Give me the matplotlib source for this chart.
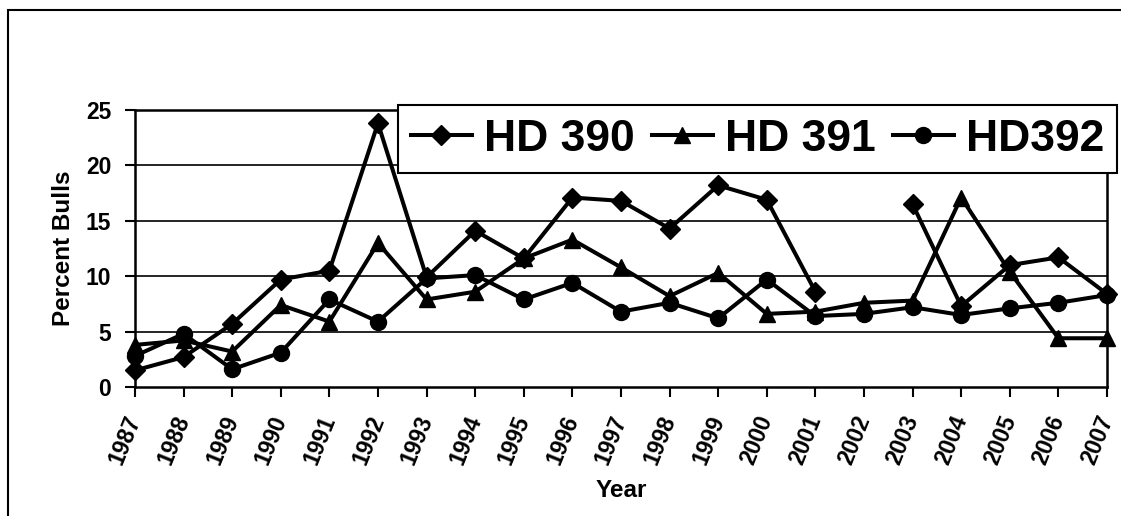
import numpy as np
import matplotlib
matplotlib.use("Agg")
import matplotlib.pyplot as plt
from matplotlib.patches import Rectangle

plt.rcParams['font.family'] = ['Liberation Sans', 'DejaVu Sans']
plt.rcParams['font.weight'] = 'bold'

years = list(range(1987, 2008))
hd390 = [1.5, 2.7, 5.7, 9.7, 10.5, 23.8, 9.9, 14.1, 11.6, 17.1, 16.8,
         14.3, 18.2, 16.9, 8.6, np.nan, 16.5, 7.3, 11.0, 11.7, 8.4]
hd391 = [3.8, 4.2, 3.2, 7.4, 5.9, 13.0, 7.9, 8.6, 11.6, 13.3, 10.8,
         8.2, 10.3, 6.6, 6.8, 7.6, 7.8, 17.1, 10.4, 4.4, 4.4]
hd392 = [2.8, 4.8, 1.6, 3.1, 7.9, 5.9, 9.8, 10.1, 7.9, 9.4, 6.8,
         7.6, 6.2, 9.7, 6.4, 6.6, 7.2, 6.5, 7.1, 7.6, 8.3]

fig = plt.figure(figsize=(11.21, 5.16), dpi=100)
ax = fig.add_axes([0.1204, 0.25, 0.8671, 0.5368])

# outer chart frame (cut off on the right and bottom)
fig.patches.append(Rectangle((0.0071, -0.2), 1.5, 0.9806 + 0.2, transform=fig.transFigure,
                             fill=False, edgecolor='black', linewidth=1.5))

for yv in [5, 10, 15, 20, 25]:
    ax.axhline(yv, color='black', linewidth=1.2, zorder=1)

ax.plot(years, hd390, color='black', lw=2.9, marker='D', ms=10.5, label='HD 390', clip_on=False, zorder=3)
ax.plot(years, hd391, color='black', lw=2.9, marker='^', ms=12, label='HD 391', clip_on=False, zorder=3)
ax.plot(years, hd392, color='black', lw=2.9, marker='o', ms=11.5, label='HD392', clip_on=False, zorder=3)

ax.set_xlim(1987, 2007)
ax.set_ylim(0, 25)
ax.set_yticks(range(0, 26, 5))
ax.set_xticks(years)
ax.set_xticklabels([str(y) for y in years], rotation=68, ha='right', va='center',
                   rotation_mode='anchor', fontsize=16.5, fontweight='bold')
ax.tick_params(axis='y', labelsize=16.5, direction='out', length=7, width=1.5, pad=10)
ax.tick_params(axis='x', direction='out', length=7, width=1.5, pad=14)
for s in ax.spines.values():
    s.set_linewidth(1.8)

ax.set_ylabel('Percent Bulls', fontsize=17.5, fontweight='bold', labelpad=8)
ax.set_xlabel('Year', fontsize=17.5, fontweight='bold', labelpad=8)

leg = ax.legend(loc='center', bbox_to_anchor=(0.6404, 0.895), ncol=3, fontsize=32,
                frameon=True, fancybox=False, edgecolor='black', framealpha=1,
                handlelength=1.36, handletextpad=0.27, columnspacing=0.4,
                borderpad=0.3, borderaxespad=0)
leg.get_frame().set_linewidth(1.5)
for t in leg.get_texts():
    t.set_fontweight('bold')

fig.savefig('out.png', dpi=100)
